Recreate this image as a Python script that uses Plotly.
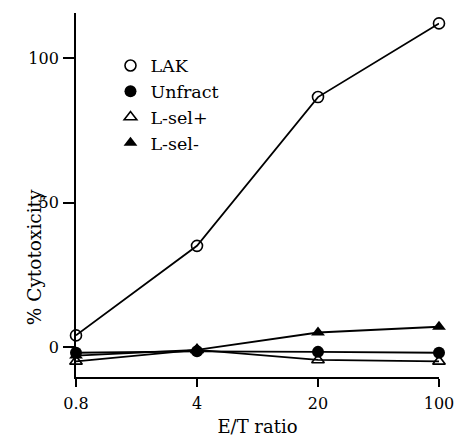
import plotly.graph_objects as go
import math

ratios = [0.8, 4, 20, 100]
lak = [4, 35, 86.5, 112]
unfract = [-2, -1.5, -1.7, -2]
lsel_pos = [-5, -1, -4.5, -5]
lsel_neg = [-3, -1, 5, 7]

series = [
    ("LAK", lak, dict(symbol="circle-open", size=11, color="black", line=dict(width=1.6, color="black"))),
    ("Unfract", unfract, dict(symbol="circle", size=12, color="black")),
    ("L-sel+", lsel_pos, dict(symbol="triangle-up-open", size=11, color="black", line=dict(width=1.6, color="black"))),
    ("L-sel-", lsel_neg, dict(symbol="triangle-up", size=12, color="black")),
]

FONT = "DejaVu Serif"
fig = go.Figure()
for name, vals, mk in series:
    fig.add_trace(go.Scatter(
        x=ratios, y=vals, mode="lines+markers", name=name,
        line=dict(color="black", width=1.8),
        marker=mk, cliponaxis=False, showlegend=False,
    ))
for i, (name, vals, mk) in enumerate(series):
    fig.add_trace(go.Scatter(
        x=[None], y=[None], mode="markers", name=name,
        marker=mk, showlegend=True, legendgroup=str(i),
    ))

fig.update_layout(
    width=456, height=441,
    margin=dict(l=76, r=17, t=13, b=64, autoexpand=False),
    paper_bgcolor="white", plot_bgcolor="white",
    font=dict(family=FONT, size=16, color="black"),
    legend=dict(x=0.095, y=0.905, xanchor="left", yanchor="top",
                bgcolor="rgba(0,0,0,0)", font=dict(family=FONT, size=17.5),
                tracegroupgap=0),
    xaxis=dict(
        type="log", range=[math.log10(0.8), 2], automargin=False,
        tickvals=ratios, ticktext=["0.8", "4", "20", "100"],
        showline=True, linecolor="black", linewidth=1.8,
        ticks="outside", ticklen=8, tickwidth=1.8, tickcolor="black",
        showgrid=False, zeroline=False, ticklabelstandoff=3,
        tickfont=dict(family=FONT, size=16),
        title=dict(text="E/T ratio", font=dict(family=FONT, size=18), standoff=8),
    ),
    yaxis=dict(
        range=[-10.4, 115.6], automargin=False,
        tickvals=[0, 50, 100],
        showline=True, linecolor="black", linewidth=1.8,
        ticks="outside", ticklen=11, tickwidth=1.8, tickcolor="black",
        showgrid=False, zeroline=False, ticklabelstandoff=1,
        tickfont=dict(family=FONT, size=16),
    ),
    annotations=[dict(
        text="% Cytotoxicity", xref="paper", yref="paper",
        x=-0.112, y=0.33, xanchor="center", yanchor="middle",
        textangle=-90, showarrow=False, font=dict(family=FONT, size=18.5),
    )],
)

fig.write_html("out.html")
